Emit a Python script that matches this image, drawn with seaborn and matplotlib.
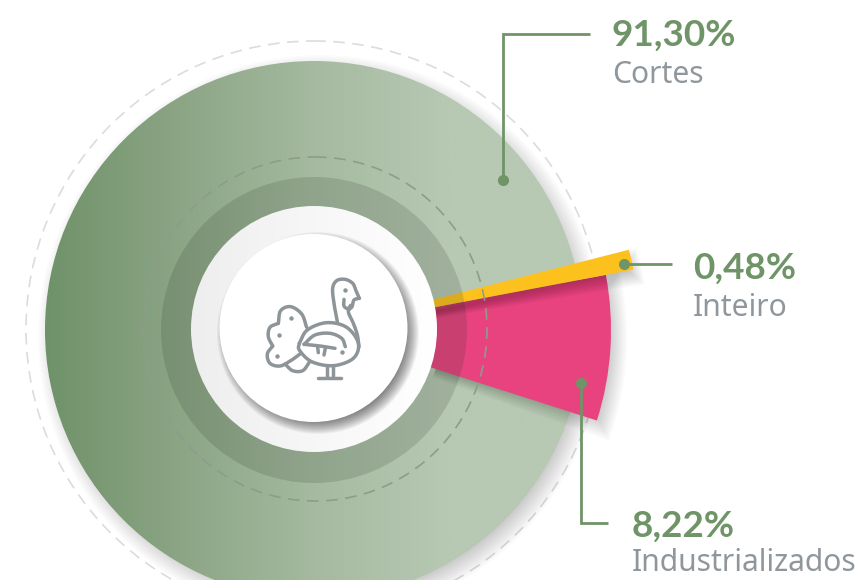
import numpy as np
import matplotlib
matplotlib.use("Agg")
import matplotlib.pyplot as plt
from matplotlib.colors import ListedColormap
from matplotlib.patches import Circle, Wedge
import seaborn as sns

# ---- data ----
categories = ["Cortes", "Inteiro", "Industrializados"]
shares = [91.30, 0.48, 8.22]
share_labels = ["91,30%", "0,48%", "8,22%"]

# ---- style ----
GREEN = "#6F9468"
GREY_TEXT = "#8F979C"
ICON = "#8E9599"
YELLOW = "#FDC11E"
PINK = "#E8437F"
CX, CY = 314, 330
DEG_PER_POINT = 3.46      # drawn angle per percentage point
MIN_SPAN = 3.6            # the tiny slice is exaggerated so it stays visible
PINK_TOP = 10.7           # visual angle of the pink/yellow boundary

sns.set_theme(style="white")
plt.rcParams["font.family"] = ["Noto Sans", "DejaVu Sans"]

fig = plt.figure(figsize=(8.62, 5.80), dpi=100)
ax = fig.add_axes([0, 0, 1, 1])
ax.set_axis_off()


def soft_circle(cx, cy, r, spread, alpha, z, n=16):
    for i in range(n):
        rr = r + spread * (1 - 2 * i / (n - 1))
        ax.add_patch(Circle((cx, cy), rr, fc="black", ec="none", alpha=alpha / n, zorder=z))


def soft_wedge(dx, dy, r, t1, t2, spread, alpha, z, rin=120, n=12):
    for i in range(n):
        d = spread * (1 - 2 * i / (n - 1))
        ax.add_patch(Wedge((CX + dx, CY + dy), r + d, t1 - d * 0.2, t2 + d * 0.2,
                           width=r + d - rin, fc="black", ec="none", alpha=alpha / n, zorder=z))


# outer dashed guide
ax.add_patch(Circle((CX, CY - 1), 288, fc="none", ec="#DADDD9", lw=1.2, ls=(0, (7, 4.5)), zorder=1))

# main disc shadow + gradient disc
soft_circle(CX + 6, CY + 7, 269, 13, 0.22, 2)
grad = sns.blend_palette(["#6F9269", "#8CA585", "#A5BAA0", "#B7C8B3", "#B7C8B3"], n_colors=256)
disc = Circle((CX, CY), 269, transform=ax.transData, fc="none", ec="none")
ax.add_patch(disc)
img = ax.imshow(np.linspace(0, 1, 256)[None, :], cmap=ListedColormap(grad),
                extent=(45, 583, 599, 61), aspect="auto", zorder=3)
img.set_clip_path(disc)

# slices, from the shares
span_pink = max(shares[2] * DEG_PER_POINT, MIN_SPAN)
span_yellow = max(shares[1] * DEG_PER_POINT, MIN_SPAN)
pink_t1, pink_t2 = -PINK_TOP, -PINK_TOP + span_pink
yel_t1, yel_t2 = -PINK_TOP - span_yellow, -PINK_TOP

soft_wedge(6, 7, 297, pink_t1, pink_t2, 10, 0.24, 4)
ax.add_patch(Wedge((CX, CY), 297, pink_t1, pink_t2, width=297 - 120, fc=PINK, ec="none", zorder=5))
soft_wedge(3, 8, 325, yel_t1, yel_t2, 7, 0.24, 6)
ax.add_patch(Wedge((CX, CY), 325, yel_t1, yel_t2, width=325 - 120, fc=YELLOW, ec="none", zorder=7))

# translucent dark ring over everything, dashed inner guide
ax.add_patch(Circle((CX, CY), 153, fc="#1E2A1C", ec="none", alpha=0.15, zorder=8))
ax.add_patch(Circle((CX + 1, CY - 1), 172, fc="none", ec="#8E9C8A", lw=1.2,
                    ls=(0, (7, 4.5)), zorder=8))

# white ring with soft light gradient
ring = Circle((CX, CY - 1), 123, transform=ax.transData, fc="none", ec="none")
ax.add_patch(ring)
ring_cmap = ListedColormap(sns.blend_palette(["#EEEEEE", "#F7F7F7", "#FFFFFF"], n_colors=128))
ring_img = ax.imshow(np.linspace(0, 1, 128)[None, :], cmap=ring_cmap,
                     extent=(191, 437, 452, 206), aspect="auto", zorder=9)
ring_img.set_clip_path(ring)

# central white circle with shadow
soft_circle(318, 333, 94, 7, 0.62, 10)
ax.add_patch(Circle((313.5, 328), 94, fc="white", ec="none", zorder=11))


# ---- turkey icon (decoration, traced in pixels of the 190 px crop, x3) ----
def smooth(points, per=14):
    p = np.array(points, float)
    p = np.vstack([2 * p[0] - p[1], p, 2 * p[-1] - p[-2]])
    t = np.linspace(0, 1, per)[:, None]
    out = []
    for a, b, c, d in zip(p[:-3], p[1:-2], p[2:-1], p[3:]):
        out.append(0.5 * (2 * b + (c - a) * t + (2 * a - 5 * b + 4 * c - d) * t**2
                          + (3 * b - a - 3 * c + d) * t**3))
    return np.vstack(out)


def stroke(points, curved=True):
    xy = smooth(points) if curved else np.array(points, float)
    ax.plot(220 + xy[:, 0] / 3, 240 + xy[:, 1] / 3, color=ICON, lw=2.5,
            solid_capstyle="round", solid_joinstyle="round", zorder=12)


outline = [
    [(352, 245), (342, 190), (338, 145), (350, 122), (375, 118), (398, 130), (408, 152), (418, 175)],
    [(418, 175), (402, 180), (396, 200), (385, 215), (400, 250), (412, 285), (417, 320)],
    [(372, 178), (372, 198), (384, 206), (392, 196)],
    [(238, 310), (262, 270), (320, 248), (380, 262), (415, 310), (400, 355), (340, 377),
     (275, 365), (238, 330), (238, 310)],
    [(252, 313), (285, 285), (330, 280), (365, 295), (376, 320)],
    [(252, 313), (300, 318), (345, 325)],
    [(293, 322), (295, 338)],
    [(316, 325), (312, 345)],
    [(260, 262), (245, 222), (212, 200), (182, 212), (175, 250)],
    [(175, 250), (150, 262), (145, 290), (158, 318)],
    [(158, 318), (142, 342), (150, 370), (180, 378), (212, 362), (240, 342)],
    [(195, 372), (218, 392), (248, 392), (268, 367)],
]
for line in outline:
    stroke(line)
stroke([(320, 378), (320, 412)], curved=False)
stroke([(340, 378), (340, 412)], curved=False)
stroke([(295, 413), (362, 413)], curved=False)
for dx, dy in [(375, 150), (213, 234), (176, 285), (170, 349), (367, 335)]:
    ax.plot(220 + dx / 3, 240 + dy / 3, "o", color=ICON, ms=3.2, mec="none", zorder=12)

# ---- leaders ----
leaders = [
    [(503, 180), (503, 34), (590, 34)],
    [(624, 264), (672, 264)],
    [(581, 383), (581, 523), (608, 523)],
]
for pts in leaders:
    xs, ys = zip(*pts)
    ax.plot(xs, ys, color=GREEN, lw=2.0, solid_joinstyle="miter", solid_capstyle="butt", zorder=13)
    ax.plot(xs[0], ys[0], "o", color=GREEN, ms=8, mec="none", zorder=13)

# ---- text ----
anchors = [(612, 46, 83), (693, 279, 316), (632, 537, 571)]
for name, lab, (x, y1, y2) in zip(categories, share_labels, anchors):
    ax.text(x, y1, lab, color=GREEN, fontsize=26.6, fontweight="bold", family=["Lato", "DejaVu Sans"],
            va="baseline", ha="left", zorder=14)
    ax.text(x, y2, name, color=GREY_TEXT, fontsize=21.6, va="baseline", ha="left", zorder=14)

ax.set_xlim(0, 862)
ax.set_ylim(580, 0)
sns.despine(ax=ax, left=True, bottom=True)
fig.savefig("out.png", dpi=100, facecolor="white")
